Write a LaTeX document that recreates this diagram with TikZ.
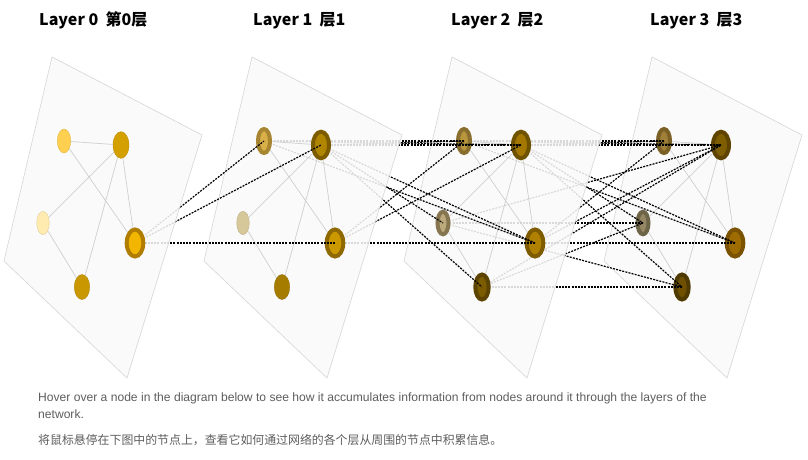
\documentclass[tikz,border=0pt]{standalone}
\usepackage{fontspec}
\setmainfont{Noto Sans CJK SC}
\newfontfamily\engfont{Liberation Sans}
\usetikzlibrary{shapes.geometric}
\pgfdeclarelayer{Lthree}
\pgfdeclarelayer{Ctwo}
\pgfdeclarelayer{Ltwo}
\pgfdeclarelayer{Cone}
\pgfdeclarelayer{Lone}
\pgfdeclarelayer{Czero}
\pgfdeclarelayer{Lzero}
\pgfsetlayers{Lthree,Ctwo,Ltwo,Cone,Lone,Czero,Lzero,main}
% layer 0
\definecolor{cAz}{HTML}{FFD04F}
\definecolor{cBz}{HTML}{D4A000}
\definecolor{cCz}{HTML}{FFEBB0}
\definecolor{cDzo}{HTML}{B07D00}
\definecolor{cDzi}{HTML}{F2B600}
\definecolor{cEz}{HTML}{C99700}
% layer 1
\definecolor{cAoo}{HTML}{A88530}
\definecolor{cAoi}{HTML}{D9B048}
\definecolor{cBoo}{HTML}{7D5C00}
\definecolor{cBoi}{HTML}{B08500}
\definecolor{cCo}{HTML}{D7C89A}
\definecolor{cDoo}{HTML}{8E6800}
\definecolor{cDoi}{HTML}{CC9800}
\definecolor{cEo}{HTML}{A67C00}
% layer 2
\definecolor{cAto}{HTML}{8A6E2E}
\definecolor{cAti}{HTML}{B8963E}
\definecolor{cBto}{HTML}{6E5200}
\definecolor{cBti}{HTML}{A47800}
\definecolor{cCto}{HTML}{857650}
\definecolor{cCti}{HTML}{BCAA7C}
\definecolor{cDto}{HTML}{7F5B00}
\definecolor{cDti}{HTML}{B08000}
\definecolor{cEto}{HTML}{5C4400}
\definecolor{cEti}{HTML}{7C5C00}
% layer 3
\definecolor{cAho}{HTML}{7A6024}
\definecolor{cAhi}{HTML}{A08038}
\definecolor{cBho}{HTML}{5E4400}
\definecolor{cBhi}{HTML}{7E5E00}
\definecolor{cCho}{HTML}{6E6448}
\definecolor{cChi}{HTML}{958664}
\definecolor{cDho}{HTML}{7A5200}
\definecolor{cDhi}{HTML}{9E6C00}
\definecolor{cEho}{HTML}{4E3A00}
\definecolor{cEhi}{HTML}{6E5000}
\definecolor{panelgray}{HTML}{FAFAFA}
\definecolor{bordergray}{HTML}{D6D6D6}
\definecolor{edgegray}{HTML}{CFCFCF}
\definecolor{textgray}{HTML}{5E5E5E}
% plain node: name, x, y, rx, ry, fill
\newcommand\plainn[6]{\node[ellipse,inner sep=0pt,minimum width=2*#4,minimum height=2*#5,fill=#6,draw=#6!88!black,line width=0.4pt] (#1) at (#2,#3) {};}
% ring node: name, x, y, rx, ry, inner, outer
\newcommand\ringn[7]{\node[ellipse,inner sep=0pt,minimum width=2*#4-4,minimum height=2*#5-4,fill=#6,draw=#7,line width=4pt] (#1) at (#2,#3) {};}
\begin{document}
\begin{tikzpicture}[x=1pt,y=-1pt,
  panel/.style={fill=panelgray,fill opacity=0.87,draw=bordergray,line width=0.6pt},
  gedge/.style={draw=edgegray,line width=0.7pt},
  link/.style={draw=black,line width=1.2pt,dash pattern=on 2pt off 1.2pt},
  titletext/.style={anchor=west,font=\fontsize{16}{16}\selectfont\bfseries,inner sep=0pt},
  captext/.style={anchor=base west,inner sep=0pt,text=textgray}]
\begin{pgfonlayer}{Lthree}
\fill[white] (0,0) rectangle (808,459);
\end{pgfonlayer}
\useasboundingbox (0,0) rectangle (808,459);

% ---------- Layer 0 ----------
\begin{pgfonlayer}{Lzero}
\begin{scope}[xshift=0]
\draw[panel] (52,57) -- (202,135) -- (127,378) -- (4,261) -- cycle;
\plainn{a0}{64}{141}{6.7}{12}{cAz}
\plainn{b0}{121}{145}{8}{13.3}{cBz}
\plainn{c0}{43}{223}{6.3}{11.7}{cCz}
\ringn{d0}{135}{243}{10.3}{15.5}{cDzi}{cDzo}
\plainn{e0}{82}{287}{7.7}{12.5}{cEz}
\draw[gedge] (a0)--(b0) (a0)--(d0) (b0)--(c0) (b0)--(e0) (b0)--(d0) (c0)--(e0);
\end{scope}
\end{pgfonlayer}

% ---------- Layer 1 ----------
\begin{pgfonlayer}{Lone}
\begin{scope}[xshift=200]
\draw[panel] (52,57) -- (202,135) -- (127,378) -- (4,261) -- cycle;
\ringn{a1}{64}{141}{8}{14}{cAoi}{cAoo}
\ringn{b1}{121}{145}{10}{15.3}{cBoi}{cBoo}
\plainn{c1}{43}{223}{6.3}{11.7}{cCo}
\ringn{d1}{135}{243}{10.3}{15.5}{cDoi}{cDoo}
\plainn{e1}{82}{287}{7.7}{12.5}{cEo}
\draw[gedge] (a1)--(b1) (a1)--(d1) (b1)--(c1) (b1)--(e1) (b1)--(d1) (c1)--(e1);
\end{scope}
\end{pgfonlayer}

% ---------- Layer 2 ----------
\begin{pgfonlayer}{Ltwo}
\begin{scope}[xshift=400]
\draw[panel] (52,57) -- (202,135) -- (127,378) -- (4,261) -- cycle;
\ringn{a2}{64}{141}{8}{14}{cAti}{cAto}
\ringn{b2}{121}{145}{10}{15.3}{cBti}{cBto}
\ringn{c2}{43}{223}{7.5}{13.3}{cCti}{cCto}
\ringn{d2}{135}{243}{10.3}{15.5}{cDti}{cDto}
\ringn{e2}{82}{287}{8.7}{14.5}{cEti}{cEto}
\draw[gedge] (a2)--(b2) (a2)--(d2) (b2)--(c2) (b2)--(e2) (b2)--(d2) (c2)--(e2);
\end{scope}
\end{pgfonlayer}

% ---------- Layer 3 ----------
\begin{pgfonlayer}{Lthree}
\begin{scope}[xshift=600]
\draw[panel] (52,57) -- (202,135) -- (127,378) -- (4,261) -- cycle;
\ringn{a3}{64}{141}{8}{14}{cAhi}{cAho}
\ringn{b3}{121}{145}{10}{15.3}{cBhi}{cBho}
\ringn{c3}{43}{223}{7.5}{13.3}{cChi}{cCho}
\ringn{d3}{135}{243}{10.3}{15.5}{cDhi}{cDho}
\ringn{e3}{82}{287}{8.7}{14.5}{cEhi}{cEho}
\draw[gedge] (a3)--(b3) (a3)--(d3) (b3)--(c3) (b3)--(e3) (b3)--(d3) (c3)--(e3);
\end{scope}
\end{pgfonlayer}

% ---------- links 0 -> 1 ----------
\begin{pgfonlayer}{Czero}
\draw[link] (d0.center)--(a1.center);
\draw[link] (d0.center)--(b1.center);
\draw[link] (d0.center)--(d1.center);
\end{pgfonlayer}

% ---------- links 1 -> 2 ----------
\begin{pgfonlayer}{Cone}
\foreach \s/\t in {a/a,a/b,a/d,b/a,b/b,b/c,b/d,b/e,d/d,d/a,d/b}
  \draw[link] (\s1.center)--(\t2.center);
\end{pgfonlayer}

% ---------- links 2 -> 3 ----------
\begin{pgfonlayer}{Ctwo}
\foreach \s/\t in {a/a,a/b,a/d,b/a,b/b,b/c,b/d,b/e,c/c,c/b,c/e,d/d,d/a,d/b,e/e,e/b,e/c}
  \draw[link] (\s2.center)--(\t3.center);
\end{pgfonlayer}

% ---------- titles ----------
\node[titletext] (t0) at (39,20.5) {Layer 0\ \ 第0层};
\node[titletext] (t1) at (253,20.5) {Layer 1\ \ 层1};
\node[titletext] (t2) at (451,20.5) {Layer 2\ \ 层2};
\node[titletext] (t3) at (650,20.5) {Layer 3\ \ 层3};

% ---------- caption ----------
\node[captext,font=\engfont\fontsize{12.1}{13}\selectfont] (cap1) at (38,401) {Hover over a node in the diagram below to see how it accumulates information from nodes around it through the layers of the};
\node[captext,font=\engfont\fontsize{12.1}{13}\selectfont] (cap2) at (38,418) {network.};
\node[captext,font=\fontsize{11.9}{13}\selectfont] (cap3) at (38,444.5) {将鼠标悬停在下图中的节点上，查看它如何通过网络的各个层从周围的节点中积累信息。};
\end{tikzpicture}
\end{document}
